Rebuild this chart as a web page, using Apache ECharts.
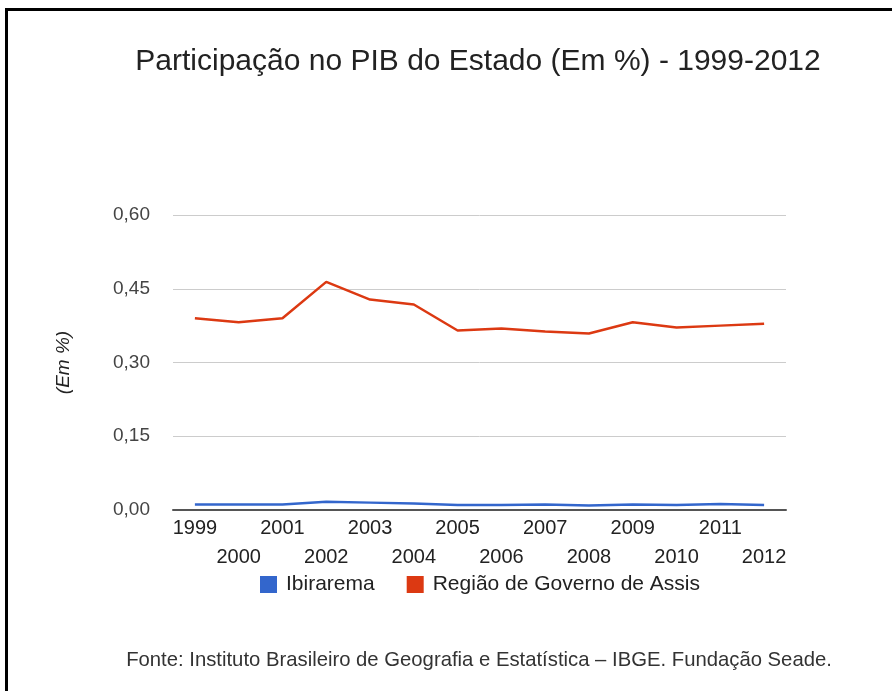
<!DOCTYPE html>
<html>
<head>
<meta charset="utf-8">
<script src="https://cdn.jsdelivr.net/npm/echarts@6/dist/echarts.min.js"></script>
<style>
html,body{margin:0;padding:0;background:#fff;}
#chart{width:892px;height:691px;}
</style>
</head>
<body>
<div id="chart"></div>
<script>
var years = ['1999','2000','2001','2002','2003','2004','2005','2006','2007','2008','2009','2010','2011','2012'];
var ibirarema = [0.011,0.011,0.011,0.017,0.015,0.013,0.010,0.010,0.011,0.009,0.011,0.010,0.012,0.010];
var regiaoAssis = [0.390,0.382,0.390,0.464,0.428,0.418,0.365,0.369,0.363,0.359,0.382,0.371,0.375,0.379];
var yTicks = [0, 0.15, 0.30, 0.45, 0.60];

var FONT = '"Liberation Sans", Arial, sans-serif';
var chart = echarts.init(document.getElementById('chart'), null, {renderer: 'canvas'});
chart.setOption({
  backgroundColor: '#fff',
  animation: false,
  textStyle: {fontFamily: FONT},
  title: {
    text: 'Participação no PIB do Estado (Em %) - 1999-2012',
    left: 473, top: 42, textAlign: 'center',
    textStyle: {fontFamily: FONT, fontSize: 30, fontWeight: 'normal', color: '#222'}
  },
  graphic: [
    {type: 'rect', shape: {x: 5, y: 8, width: 887, height: 3}, style: {fill: '#000'}},
    {type: 'rect', shape: {x: 5, y: 8, width: 3, height: 683}, style: {fill: '#000'}},
    {type: 'text', x: 479, y: 650,
     style: {text: 'Fonte: Instituto Brasileiro de Geografia e Estatística – IBGE. Fundação Seade.',
             font: '20.3px ' + FONT, fill: '#333', align: 'center', verticalAlign: 'top'}}
  ],
  legend: {
    data: ['Ibirarema', 'Região de Governo de Assis'],
    top: 569, left: 255,
    icon: 'rect', itemWidth: 17, itemHeight: 17, itemGap: 32, itemStyle: {borderWidth: 0},
    textStyle: {fontFamily: FONT, fontSize: 21, color: '#222', padding: [0, 0, 0, 4]}
  },
  grid: {left: 173, right: 106, top: 215, bottom: 181, containLabel: false},
  xAxis: {
    type: 'category',
    data: years,
    boundaryGap: true,
    axisLine: {lineStyle: {color: '#555', width: 2}},
    axisTick: {show: false},
    axisLabel: {
      interval: 0, margin: 4, color: '#222', fontSize: 20, fontFamily: FONT, lineHeight: 29,
      formatter: function (v, i) { return i % 2 === 1 ? '\n' + v : v; }
    },
    splitLine: {show: false}
  },
  yAxis: {
    type: 'value',
    min: yTicks[0], max: yTicks[yTicks.length - 1], interval: 0.15,
    name: '(Em %)', nameLocation: 'middle', nameGap: 100, nameRotate: 90,
    nameTextStyle: {fontFamily: FONT, fontSize: 19, fontStyle: 'italic', color: '#222'},
    axisLine: {show: false}, axisTick: {show: false},
    axisLabel: {
      margin: 23, color: '#444', fontSize: 19, fontFamily: FONT,
      formatter: function (v) { return v.toFixed(2).replace('.', ','); }
    },
    splitLine: {lineStyle: {color: '#ccc', width: 1}}
  },
  series: [
    {name: 'Ibirarema', type: 'line', data: ibirarema, showSymbol: false, symbol: 'none',
     itemStyle: {color: '#3366cc'}, lineStyle: {color: '#3366cc', width: 2.5}},
    {name: 'Região de Governo de Assis', type: 'line', data: regiaoAssis, showSymbol: false, symbol: 'none',
     itemStyle: {color: '#dc3912'}, lineStyle: {color: '#dc3912', width: 2.5}}
  ]
});
</script>
</body>
</html>
